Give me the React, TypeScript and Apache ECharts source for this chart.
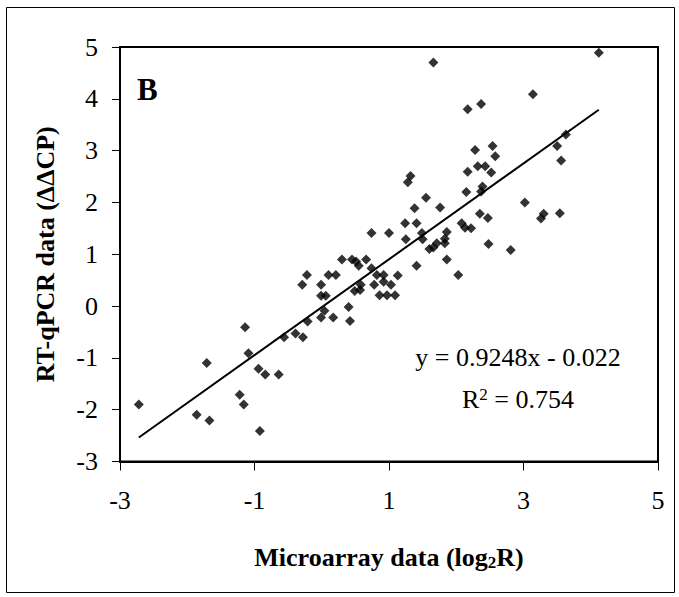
import React, { useEffect, useRef } from "react";
import * as echarts from "echarts";

// Microarray log2R (x) vs RT-qPCR ΔΔCP (y)
const microarray: number[] = [
  -2.72, -1.86, -1.67, -1.71, -0.92, -1.22, -1.16, -1.14, -1.09, -0.94,
  -0.84, -0.64, -0.56, -0.39, -0.28, -0.21, -0.01, 0.17, 0.42, 0.04,
  0.40, -0.01, 0.06, -0.01, -0.29, -0.22, 0.10, 0.21, 0.30, 0.45,
  0.51, 0.55, 0.66, 0.49, 0.58, 0.57, 0.74, 0.82, 0.92, 0.92,
  0.78, 1.03, 0.86, 0.97, 1.09, 1.13, 1.41, 1.86, 2.03, 0.74,
  1.00, 1.25, 1.49, 1.50, 1.24, 1.41, 1.86, 1.83, 1.83, 1.71,
  1.66, 1.60, 2.08, 2.13, 2.22, 2.48, 2.81, 2.35, 2.47, 3.30,
  3.26, 3.54, 3.02, 1.38, 1.76, 1.55, 2.15, 2.37, 2.39, 1.28,
  1.32, 2.17, 2.52, 2.32, 2.43, 2.58, 2.28, 2.54, 3.56, 3.50,
  3.63, 2.17, 2.37, 3.14, 1.66, 4.12,
];
const rtqpcr: number[] = [
  -1.90, -2.10, -2.21, -1.10, -2.41, -1.71, -1.90, -0.41, -0.91, -1.21,
  -1.32, -1.32, -0.60, -0.53, -0.60, -0.30, -0.22, -0.22, -0.29, -0.09,
  -0.02, 0.20, 0.20, 0.41, 0.41, 0.60, 0.60, 0.60, 0.90, 0.90,
  0.86, 0.78, 0.90, 0.29, 0.41, 0.31, 0.73, 0.60, 0.60, 0.47,
  0.41, 0.41, 0.21, 0.21, 0.21, 0.59, 0.78, 0.90, 0.60, 1.41,
  1.41, 1.29, 1.41, 1.29, 1.60, 1.60, 1.43, 1.30, 1.21, 1.21,
  1.13, 1.10, 1.60, 1.51, 1.50, 1.20, 1.08, 1.78, 1.70, 1.78,
  1.69, 1.79, 2.00, 1.89, 1.90, 2.09, 2.20, 2.21, 2.31, 2.39,
  2.51, 2.59, 2.58, 2.70, 2.70, 2.89, 3.01, 3.09, 2.81, 3.09,
  3.31, 3.80, 3.90, 4.09, 4.70, 4.89,
];

const slope = 0.9248;
const intercept = -0.022;
const rSquared = 0.754;

const xTicks = { min: -3, max: 5, interval: 2 };
const yTicks = { min: -3, max: 5, interval: 1 };

const panelLabel = "B";
const xTitle = "Microarray data (log{sub|2}R)";
const yTitle = "RT-qPCR data (ΔΔCP)";

const SERIF = "'Liberation Serif', 'Times New Roman', serif";

export default function App() {
  const ref = useRef<HTMLDivElement>(null);

  useEffect(() => {
    if (!ref.current) return;
    const chart = echarts.init(ref.current, null, { renderer: "svg" });

    const points = microarray.map((x, i) => [x, rtqpcr[i]]);
    const xMin = Math.min(...microarray);
    const xMax = Math.max(...microarray);
    const trend = [
      [xMin, slope * xMin + intercept],
      [xMax, slope * xMax + intercept],
    ];
    const eqText = `y = ${slope}x - ${Math.abs(intercept)}`;

    chart.setOption({
      animation: false,
      backgroundColor: "#ffffff",
      grid: {
        left: 120,
        right: 21,
        top: 47,
        bottom: 135.5,
        show: true,
        borderColor: "#000",
        borderWidth: 2,
        containLabel: false,
      },
      xAxis: {
        type: "value",
        min: xTicks.min,
        max: xTicks.max,
        interval: xTicks.interval,
        splitLine: { show: false },
        axisLine: { show: true, onZero: false, lineStyle: { color: "#000", width: 2 } },
        axisTick: { show: true, inside: false, length: 9, lineStyle: { color: "#000", width: 1 } },
        axisLabel: { color: "#000", fontFamily: SERIF, fontSize: 26, margin: 26 },
        name: xTitle,
        nameLocation: "middle",
        nameGap: 83,
        nameTextStyle: {
          color: "#000",
          fontFamily: SERIF,
          fontSize: 26,
          fontWeight: "bold",
          rich: {
            sub: {
              fontFamily: SERIF,
              fontSize: 17,
              fontWeight: "bold",
              color: "#000",
              verticalAlign: "bottom",
            },
          },
        },
      },
      yAxis: {
        type: "value",
        min: yTicks.min,
        max: yTicks.max,
        interval: yTicks.interval,
        splitLine: { show: false },
        axisLine: { show: true, onZero: false, lineStyle: { color: "#000", width: 2 } },
        axisTick: { show: true, inside: false, length: 8, lineStyle: { color: "#000", width: 1 } },
        axisLabel: { color: "#000", fontFamily: SERIF, fontSize: 26, margin: 22 },
        name: yTitle,
        nameLocation: "middle",
        nameRotate: 90,
        nameGap: 62,
        nameTextStyle: {
          color: "#000",
          fontFamily: SERIF,
          fontSize: 26,
          fontWeight: "bold",
        },
      },
      series: [
        {
          type: "scatter",
          data: points,
          symbol: "diamond",
          symbolSize: 10,
          itemStyle: { color: "#000" },
          silent: true,
          z: 3,
        },
        {
          type: "line",
          data: trend,
          showSymbol: false,
          symbol: "none",
          lineStyle: { color: "#000", width: 2 },
          silent: true,
          z: 2,
        },
      ],
      graphic: [
        {
          type: "rect",
          shape: { x: 6.5, y: 7.5, width: 668, height: 585 },
          style: { fill: "none", stroke: "#000", lineWidth: 1 },
          silent: true,
        },
        {
          type: "text",
          x: 137,
          y: 89,
          style: {
            text: panelLabel,
            fontFamily: SERIF,
            fontSize: 31,
            fontWeight: "bold",
            fill: "#000",
            verticalAlign: "middle",
            align: "left",
          },
        },
        {
          type: "text",
          x: 518,
          y: 357,
          style: {
            text: eqText,
            fontFamily: SERIF,
            fontSize: 26,
            fill: "#000",
            align: "center",
            verticalAlign: "middle",
          },
        },
        {
          type: "text",
          x: 518,
          y: 399,
          style: {
            text: `{m|R}{sup|2}{m| = ${rSquared}}`,
            align: "center",
            verticalAlign: "middle",
            rich: {
              m: { fontFamily: SERIF, fontSize: 26, fill: "#000", color: "#000" },
              sup: {
                fontFamily: SERIF,
                fontSize: 17,
                fill: "#000",
                color: "#000",
                verticalAlign: "top",
              },
            },
          },
        },
      ],
    });

    return () => chart.dispose();
  }, []);

  return (
    <div
      ref={ref}
      style={{ position: "absolute", left: 0, top: 0, width: 679, height: 597, background: "#fff" }}
    />
  );
}
